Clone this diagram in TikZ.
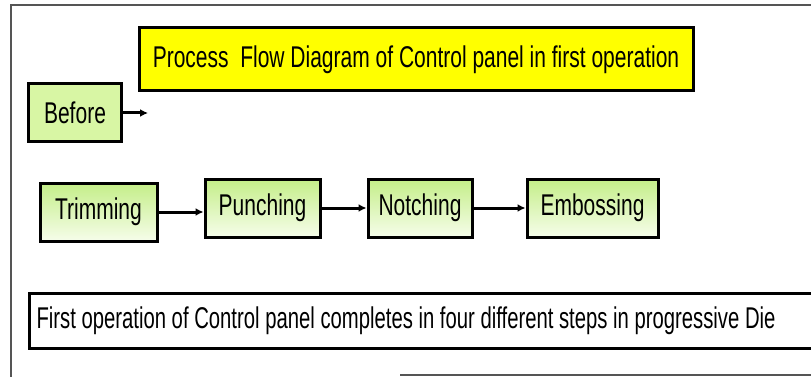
\documentclass[tikz,border=0pt]{standalone}
\usepackage{fontspec}
\setmainfont{Liberation Sans}[FakeStretch=0.7]
\newfontfamily\notefont{Liberation Sans}[FakeStretch=0.676]
\usetikzlibrary{arrows.meta}
\definecolor{lime}{HTML}{D8F6A4}
\definecolor{limetop}{HTML}{C4EE88}
\definecolor{limebot}{HTML}{F6FDEA}
\definecolor{banner}{HTML}{FFFF00}
\definecolor{frame}{HTML}{555555}

\begin{document}
\begin{tikzpicture}[x=1pt,y=-1pt,font=\fontsize{30}{34}\selectfont,>={Latex[length=8pt,width=8pt]},
  stage/.style={draw,line width=3pt,top color=limetop,bottom color=limebot,minimum height=58pt,inner sep=0pt},
  flow/.style={->,line width=3pt}]
  \useasboundingbox (0,0) rectangle (811,377);
  \draw[frame,line width=1.8pt] (811,5)--(11,5)--(11,377);
  \draw[frame,line width=1.5pt] (400,375)--(811,375);

  \node[draw,line width=3pt,fill=banner,minimum width=554pt,minimum height=63pt,inner sep=0pt] (title) at (416,59.5)
    {Process\ \ Flow Diagram of Control panel in first operation};
  \node[draw,line width=3pt,fill=lime,minimum width=93pt,minimum height=58pt,inner sep=0pt] (before) at (75,113) {Before};
  \coordinate (open) at (148,113);
  \draw[flow] (before.east)--(open);

  \node[stage,minimum width=117pt] (trim) at (98.5,212) {Trimming};
  \node[stage,minimum width=115pt] (punch) at (262.5,208) {Punching};
  \node[stage,minimum width=104pt] (notch) at (420,208) {Notching};
  \node[stage,minimum width=131pt] (emboss) at (592.5,208) {Embossing};
  \draw[flow] (trim.east)--(trim.east -| punch.west);
  \draw[flow] (punch.east)--(punch.east -| notch.west);
  \draw[flow] (notch.east)--(notch.east -| emboss.west);

  \node[draw,line width=3pt,anchor=west,minimum height=55pt,text width=820pt,align=flush left,inner xsep=7pt,font=\notefont\fontsize{30}{34}\selectfont] (note) at (28,320.5)
    {First operation of Control panel completes in four different steps in progressive Die};
\end{tikzpicture}
\end{document}
